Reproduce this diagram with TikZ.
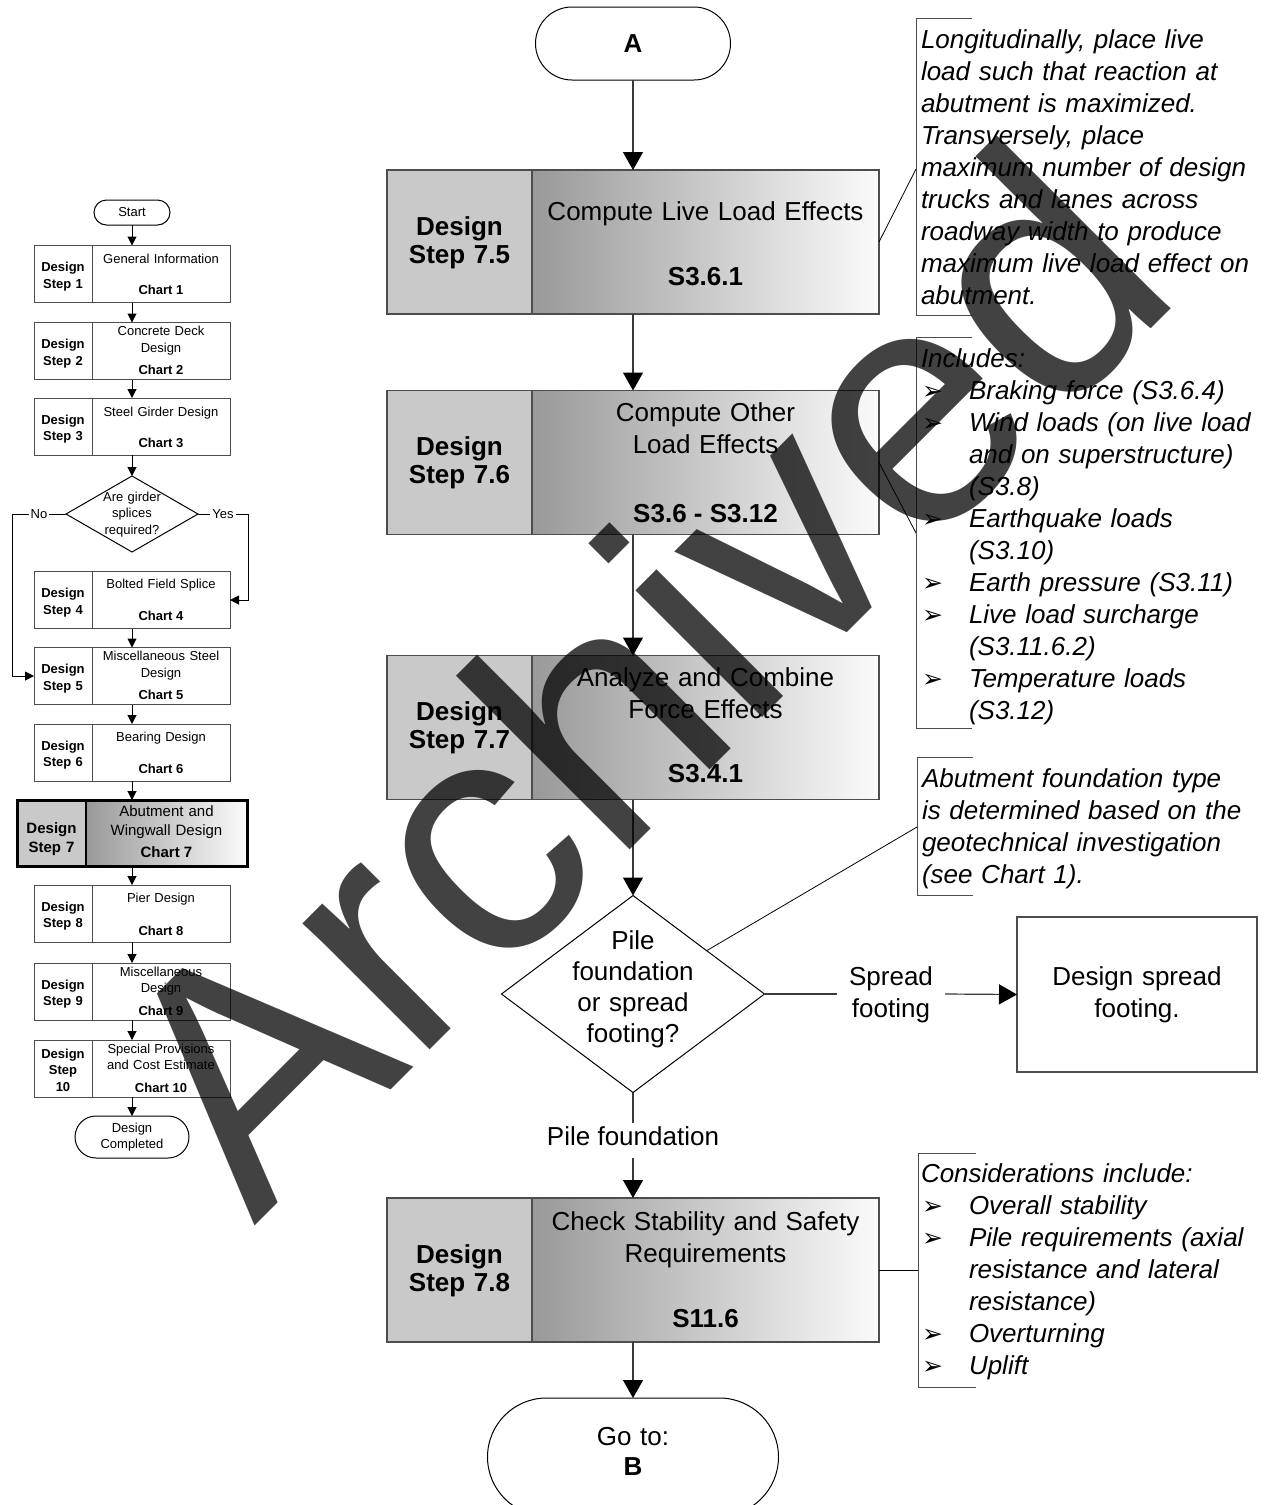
\documentclass[tikz,border=0pt]{standalone}
\usepackage{fontspec}
\setmainfont{Liberation Sans}
\newfontfamily\dingfont{DejaVu Sans}
\usetikzlibrary{calc,arrows.meta,shapes.geometric}

\definecolor{edge}{HTML}{4D4D4D}
\definecolor{stipple}{HTML}{C9C9C9}
\definecolor{shadeL}{HTML}{999999}
\definecolor{shadeR}{HTML}{FBFBFB}
\definecolor{linkgray}{HTML}{3A3A3A}

% list bullet and continuation indent for the notes
\newcommand\bul{\makebox[48pt][l]{\hspace{1pt}{\dingfont\upshape\fontsize{25}{32}\selectfont ➢}}}
\newcommand\ind{\hspace*{48pt}}

% one box of the overview chart: name, centre y, left text, its baseline,
% title, its baseline, chart label, its baseline
\newcommand\chartstep[8]{%
  \node[smallbox] (#1) at (132,#2) {};
  \node[smallb, anchor=base, text width=56pt, align=center] at ($(#1.north west)+(29,#4)$) {#3};
  \node[small, anchor=base, text width=136pt, align=center] at ($(#1.north west)+(127,#6)$) {#5};
  \node[smallb, anchor=base] at ($(#1.north west)+(127,#8)$) {#7};
}

% one design step box: name, centre y, step number, title, title baseline,
% specification reference, its baseline
\newcommand\mainstep[7]{%
  \node[mainbox] (#1) at (633,#2) {};
  \node[bigb, anchor=base, text width=140pt, align=center] at ($(#1.north west)+(72.5,65)$) {Design\\Step #3};
  \node[big, anchor=base, text width=340pt, align=center] at ($(#1.north west)+(318.5,#5)$) {#4};
  \node[bigb, anchor=base] at ($(#1.north west)+(318.5,#7)$) {#6};
}

\begin{document}
\begin{tikzpicture}[x=1pt,y=-1pt,
  every node/.style={inner sep=0pt, outer sep=0pt},
  big/.style={font=\fontsize{26}{32}\selectfont},
  bigb/.style={font=\bfseries\fontsize{26}{28}\selectfont},
  note/.style={font=\itshape\fontsize{26}{32}\selectfont, text width=344pt, align=left, anchor=base west},
  small/.style={font=\fontsize{13}{16.5}\selectfont},
  smallb/.style={font=\bfseries\fontsize{13}{16.5}\selectfont},
  mid/.style={font=\fontsize{15}{19}\selectfont},
  midb/.style={font=\bfseries\fontsize{15}{19}\selectfont},
  mainbox/.style={draw=edge, line width=1.5pt, minimum width=492pt, minimum height=144pt,
    path picture={
      \fill[stipple] (path picture bounding box.north west) rectangle ($(path picture bounding box.south west)+(145,0)$);
      \shade[left color=shadeL, right color=shadeR] ($(path picture bounding box.north west)+(145,0)$) rectangle (path picture bounding box.south east);
      \draw[edge, line width=1.5pt] ($(path picture bounding box.north west)+(145,0)$) -- ($(path picture bounding box.south west)+(145,0)$);
    }},
  smallbox/.style={draw=edge, line width=1pt, fill=white, minimum width=196pt, minimum height=57pt,
    path picture={
      \draw[edge, line width=1pt] ($(path picture bounding box.north west)+(58,0)$) -- ($(path picture bounding box.south west)+(58,0)$);
    }},
  hibox/.style={draw=black, line width=3pt, minimum width=230pt, minimum height=66pt,
    path picture={
      \fill[stipple] (path picture bounding box.north west) rectangle ($(path picture bounding box.south west)+(69,0)$);
      \shade[left color=shadeL, right color=shadeR] ($(path picture bounding box.north west)+(69,0)$) rectangle (path picture bounding box.south east);
      \draw[black, line width=2.5pt] ($(path picture bounding box.north west)+(69,0)$) -- ($(path picture bounding box.south west)+(69,0)$);
    }},
  term/.style={draw=black, line width=1pt, fill=white},
  decision/.style={diamond, draw=black, line width=1pt, fill=white},
  link/.style={draw=linkgray, line width=1.2pt, -{Triangle[width=20pt,length=18pt,color=black]}},
  plain/.style={draw=linkgray, line width=1.2pt},
  slink/.style={draw=black, line width=1pt, -{Triangle[width=9pt,length=9pt]}},
  bracket/.style={draw=edge, line width=1pt},
  lead/.style={draw=black, line width=0.8pt},
  branchlabel/.style={small, fill=white, inner xsep=2pt, inner ysep=1pt},
]
\fill[white] (0,0) rectangle (1265,1505);
\useasboundingbox (0,0) rectangle (1265,1505);
\clip (0,0) rectangle (1265,1505);

% ---------- overview chart ----------
\node[term, rounded corners=12.5pt, minimum width=76pt, minimum height=25pt, small] (start) at (132,212.5) {Start};
\chartstep{s1}{274}{Design\\Step 1}{26}{General Information}{18}{Chart 1}{49}
\chartstep{s2}{351}{Design\\Step 2}{26}{Concrete Deck\\Design}{13}{Chart 2}{52}
\chartstep{s3}{426.5}{Design\\Step 3}{26}{Steel Girder Design}{18}{Chart 3}{49}
\node[decision, minimum width=132pt, minimum height=76pt] (sq) at (132,514) {};
\node[small, anchor=base, text width=90pt, align=center] at (132,501) {Are girder\\splices\\required?};
\chartstep{s4}{600}{Design\\Step 4}{26}{Bolted Field Splice}{17}{Chart 4}{49}
\chartstep{s5}{676}{Design\\Step 5}{26}{Miscellaneous Steel\\Design}{13}{Chart 5}{52}
\chartstep{s6}{752.5}{Design\\Step 6}{26}{Bearing Design}{17}{Chart 6}{49}
\node[hibox] (s7) at (132,833) {};
\node[midb, anchor=base, text width=66pt, align=center] at ($(s7.north west)+(34.5,33)$) {Design\\Step 7};
\node[mid, anchor=base, text width=158pt, align=center] at ($(s7.north west)+(149.5,16)$) {Abutment and\\Wingwall Design};
\node[midb, anchor=base] at ($(s7.north west)+(149.5,57)$) {Chart 7};
\chartstep{s8}{913.5}{Design\\Step 8}{26}{Pier Design}{17}{Chart 8}{50}
\chartstep{s9}{991.5}{Design\\Step 9}{26}{Miscellaneous\\Design}{13}{Chart 9}{52}
\chartstep{s10}{1068.5}{Design\\Step\\10}{18}{Special Provisions\\and Cost Estimate}{13}{Chart 10}{52}
\node[term, rounded corners=21pt, minimum width=114pt, minimum height=42pt] (done) at (132,1137) {};
\node[small, anchor=base, text width=100pt, align=center] at (132,1132) {Design\\Completed};

\coordinate (noturn) at (12,514);
\coordinate (yesturn) at (248,514);
\draw[slink] (start.south) -- (s1.north);
\draw[slink] (s1.south) -- (s2.north);
\draw[slink] (s2.south) -- (s3.north);
\draw[slink] (s3.south) -- (sq.north);
\draw[slink] (sq.west) -- node[branchlabel] {No} (noturn) |- (s5.west);
\draw[slink] (sq.east) -- node[branchlabel] {Yes} (yesturn) |- (s4.east);
\draw[slink] (s4.south) -- (s5.north);
\draw[slink] (s5.south) -- (s6.north);
\draw[slink] (s6.south) -- (s7.north);
\draw[slink] (s7.south) -- (s8.north);
\draw[slink] (s8.south) -- (s9.north);
\draw[slink] (s9.south) -- (s10.north);
\draw[slink] (s10.south) -- (done.north);

% ---------- abutment and wingwall chart ----------
\node[term, rounded corners=36.5pt, minimum width=195pt, minimum height=73pt, font=\bfseries\fontsize{26}{28}\selectfont] (ta) at (633,43.5) {A};
\mainstep{b75}{242}{7.5}{Compute Live Load Effects}{50}{S3.6.1}{115}
\mainstep{b76}{462.5}{7.6}{Compute Other\\Load Effects}{31}{S3.6 - S3.12}{132}
\mainstep{b77}{727.5}{7.7}{Analyze and Combine\\Force Effects}{31}{S3.4.1}{127}
\node[decision, minimum width=263pt, minimum height=197pt] (dec) at (633,994) {};
\node[anchor=base, text width=200pt, align=center, font=\fontsize{26}{31}\selectfont] at (633,949) {Pile\\foundation\\or spread\\footing?};
\node[big, anchor=base, text width=108pt, align=center] (spl) at (891,985) {Spread\\footing};
\node[draw=edge, line width=1.5pt, minimum width=240pt, minimum height=155pt] (spb) at (1137,994.5) {};
\node[big, anchor=base, text width=230pt, align=center] at (1137,985) {Design spread\\footing.};
\node[big, anchor=base] (pfl) at (633,1145) {Pile foundation};
\coordinate (pfa) at (633,1123);
\coordinate (pfb) at (633,1158);
\mainstep{b78}{1270}{7.8}{Check Stability and Safety\\Requirements}{32}{S11.6}{129}
\node[term, rounded corners=59pt, minimum width=291pt, minimum height=118pt] (tb) at (633,1457) {};
\node[anchor=base, text width=200pt, align=center, font=\fontsize{26}{30}\selectfont] at (633,1445) {Go to:\\\textbf{B}};

\draw[link] (ta.south) -- (b75.north);
\draw[link] (b75.south) -- (b76.north);
\draw[link] (b76.south) -- (b77.north);
\draw[link] (b77.south) -- (dec.north);
\draw[plain] (dec.south) -- (pfa);
\draw[link] (pfb) -- (b78.north);
\draw[link] (b78.south) -- (tb.north);
\draw[plain] (dec.east) -- (dec.east -| spl.west);
\draw[link] (dec.east -| spl.east) -- (spb.west);

% ---------- notes ----------
\draw[bracket] (972,18) -- (916,18) -- (916,315) -- (972,315);
\coordinate (n1) at (916,169);
\draw[lead] (b75.east) -- (n1);
\node[note] (t1) at (921,48) {Longitudinally, place live\\
load such that reaction at\\
abutment is maximized.\\
Transversely, place\\
maximum number of design\\
trucks and lanes across\\
roadway width to produce\\
maximum live load effect on\\
abutment.};

\draw[bracket] (972,337) -- (916,337) -- (916,728) -- (972,728);
\coordinate (n2) at (916,533);
\draw[lead] (b76.east) -- (n2);
\node[note] (t2) at (921,367) {Includes:\\
\bul Braking force (S3.6.4)\\
\bul Wind loads (on live load\\
\ind and on superstructure)\\
\ind (S3.8)\\
\bul Earthquake loads\\
\ind (S3.10)\\
\bul Earth pressure (S3.11)\\
\bul Live load surcharge\\
\ind (S3.11.6.2)\\
\bul Temperature loads\\
\ind (S3.12)};

\draw[bracket] (973,757) -- (917,757) -- (917,895) -- (973,895);
\coordinate (n3) at (917,827);
\draw[lead] ($(dec.north)!0.56!(dec.east)$) -- (n3);
\node[note] (t3) at (922,787) {Abutment foundation type\\
is determined based on the\\
geotechnical investigation\\
(see Chart 1).};

\draw[bracket] (976,1153) -- (918,1153) -- (918,1387) -- (976,1387);
\coordinate (n4) at (918,1270);
\draw[lead] (b78.east) -- (n4);
\node[note] (t4) at (921,1182) {Considerations include:\\
\bul Overall stability\\
\bul Pile requirements (axial\\
\ind resistance and lateral\\
\ind resistance)\\
\bul Overturning\\
\bul Uplift};

% ---------- status stamp across the sheet ----------
\node[rotate=45, anchor=base west, text=black, text opacity=0.74, font=\fontsize{339}{339}\selectfont] (stamp) at (254,1226) {Archived};
\end{tikzpicture}
\end{document}
